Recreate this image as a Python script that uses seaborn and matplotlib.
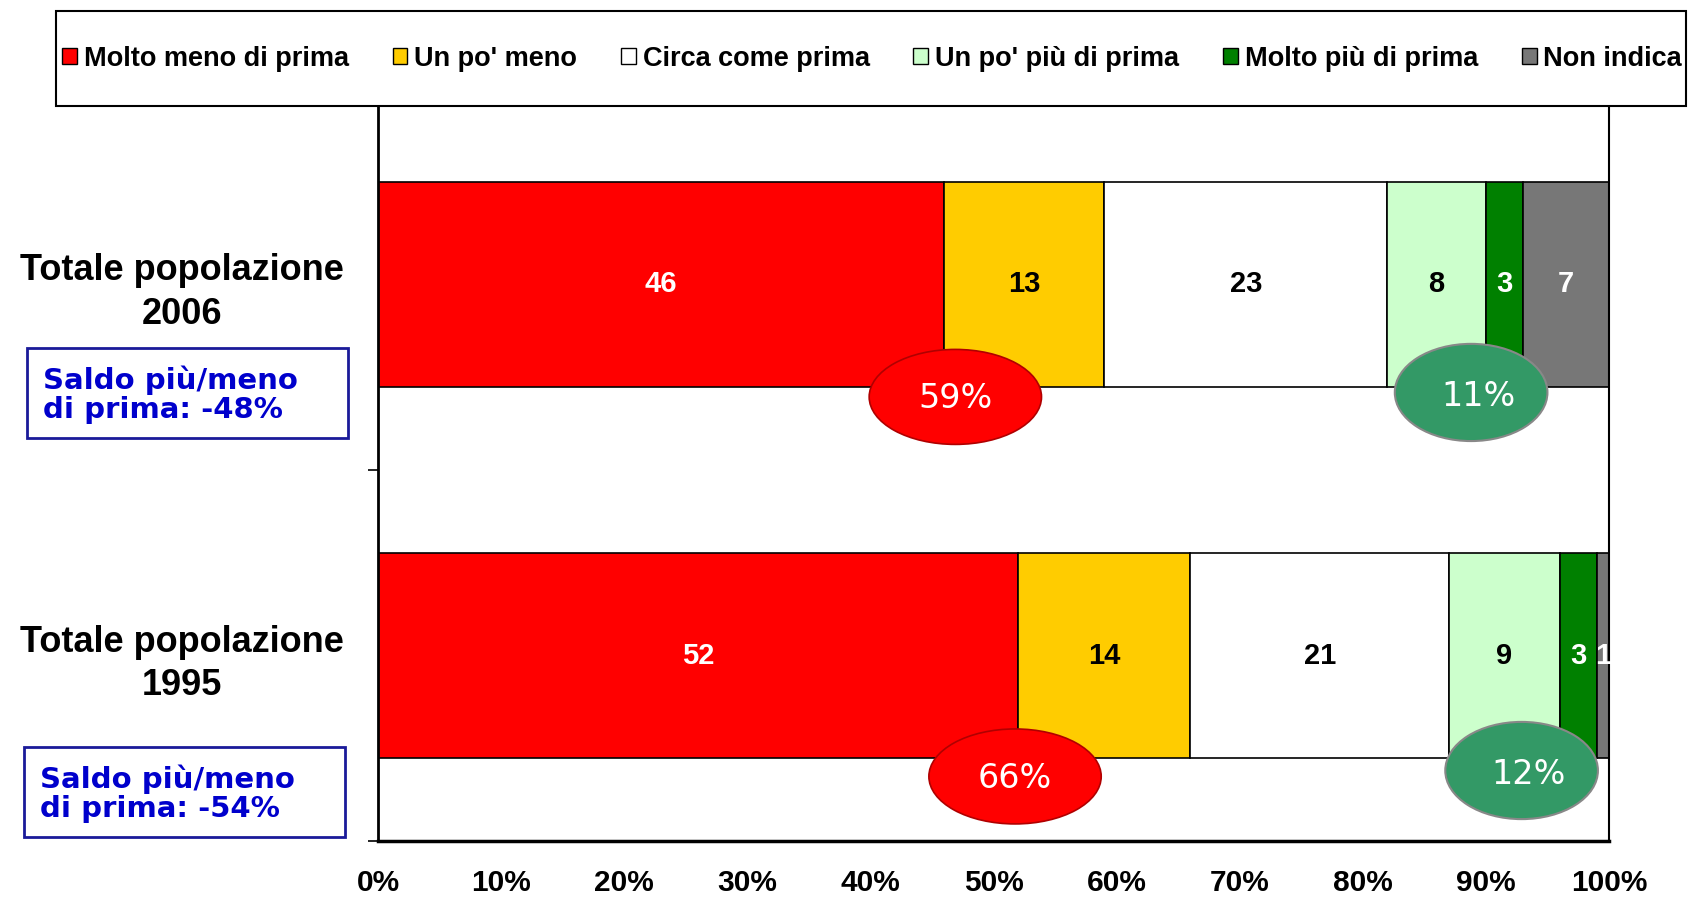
import numpy as np
import pandas as pd
import seaborn as sns
import matplotlib.pyplot as plt
from matplotlib.patches import Ellipse, Rectangle, Patch
from matplotlib.transforms import blended_transform_factory

# data
row_labels = ['Totale popolazione\n2006', 'Totale popolazione\n1995']
series = ['Molto meno di prima', "Un po' meno", 'Circa come prima',
          "Un po' più di prima", 'Molto più di prima', 'Non indica']
molto_meno = [46, 52]
po_meno = [13, 14]
come_prima = [23, 21]
po_piu = [8, 9]
molto_piu = [3, 3]
non_indica = [7, 1]
xticks = [0, 10, 20, 30, 40, 50, 60, 70, 80, 90, 100]

colors = ['#FF0000', '#FFCC00', '#FFFFFF', '#CCFFCC', '#008000', '#777777']
text_colors = ['white', 'black', 'black', 'black', 'white', 'white']

values = [molto_meno, po_meno, come_prima, po_piu, molto_piu, non_indica]

# layout tweaks for the callouts (per row)
red_dx, red_dy = [0.9, -0.25], [0.303, 0.326]
grn_dx, grn_dy = [6.8, 5.9], [0.291, 0.31]
saldo_y = [0.293, 0.3675]
saldo_x = [27, 24]

sns.set_style('white')
plt.rcParams['font.family'] = ['Liberation Sans', 'DejaVu Sans']
for k in ['text.color', 'axes.labelcolor', 'xtick.color', 'ytick.color']:
    plt.rcParams[k] = 'black'

W, H = 1693, 902
fig = plt.figure(figsize=(W / 100, H / 100), dpi=100)
ax = fig.add_axes([378 / W, 1 - 841 / H, (1609 - 378) / W, (841 - 99) / H])

# stacked bars
lefts = np.zeros(len(row_labels))
for vals, col in zip(values, colors):
    sns.barplot(x=vals, y=row_labels, left=list(lefts), color=col, saturation=1,
                edgecolor='black', linewidth=1.2, width=0.555, orient='h',
                errorbar=None, ax=ax)
    lefts = lefts + np.array(vals)

# value labels
starts = np.zeros(len(row_labels))
for vals, tc in zip(values, text_colors):
    for i, v in enumerate(vals):
        ax.text(starts[i] + v / 2, i, str(v), ha='center', va='center',
                color=tc, fontsize=21, fontweight='bold')
    starts = starts + np.array(vals)

# ellipses with the totals
for i in range(len(row_labels)):
    meno = molto_meno[i] + po_meno[i]
    piu = po_piu[i] + molto_piu[i]
    cx_r = molto_meno[i] + red_dx[i]
    cy_r = i + red_dy[i]
    ax.add_patch(Ellipse((cx_r, cy_r), 14, 0.256, fc='#FF0000', ec='#B00000', lw=1.2, zorder=5))
    ax.text(cx_r, cy_r + 0.005, f'{meno}%', ha='center', va='center', color='white',
            fontsize=24, family='DejaVu Sans', zorder=6)
    start_g = molto_meno[i] + po_meno[i] + come_prima[i]
    cx_g = start_g + grn_dx[i]
    cy_g = i + grn_dy[i]
    ax.add_patch(Ellipse((cx_g, cy_g), 12.4, 0.262, fc='#339966', ec='#888888', lw=1.5, zorder=5))
    ax.text(cx_g + 0.6, cy_g + 0.01, f'{piu}%', ha='center', va='center', color='white',
            fontsize=24, family='DejaVu Sans', zorder=6)

# saldo boxes
tr = blended_transform_factory(fig.transFigure, ax.transData)
for i in range(len(row_labels)):
    meno = molto_meno[i] + po_meno[i]
    piu = po_piu[i] + molto_piu[i]
    x0 = saldo_x[i] / W
    yc = i + saldo_y[i]
    ax.add_patch(Rectangle((x0, yc - 0.121), 321 / W, 0.242, transform=tr,
                           fc='white', ec='#1a1a99', lw=2, clip_on=False))
    ax.text(x0 + 16 / W, yc + 0.004, f'Saldo più/meno\ndi prima: {piu - meno}%',
            transform=tr, ha='left', va='center', color='#0000CC', fontsize=21,
            fontweight='bold', family='DejaVu Sans', linespacing=1.05, clip_on=False)

# axes styling
ax.set_xlim(0, 100)
ax.set_ylim(1.5, -0.5)
ax.set_xlabel('')
ax.set_ylabel('')
ax.set_xticks(xticks, labels=[f'{t}%' for t in xticks])
for lab in ax.get_xticklabels():
    lab.set_fontweight('bold')
    lab.set_fontsize(21.5)
ax.tick_params(axis='x', length=8, width=1.2, direction='out', pad=12, color='black')

ax.set_yticks([0, 1], labels=row_labels)
for lab in ax.get_yticklabels():
    lab.set_ha('center')
    lab.set_multialignment('center')
    lab.set_fontsize(26)
    lab.set_fontweight('bold')
    lab.set_linespacing(1.3)
ax.tick_params(axis='y', which='major', length=0, pad=141)
ax.set_yticks([-0.5, 0.5, 1.5], minor=True)
ax.tick_params(axis='y', which='minor', length=7, width=1.2, direction='out', left=True, color='black')

ax.spines['top'].set_visible(False)
ax.spines['left'].set_linewidth(2)
ax.spines['bottom'].set_linewidth(2.5)
ax.spines['right'].set_linewidth(1.5)
for s in ax.spines.values():
    s.set_color('black')

# legend box + legend
fig.patches.append(Rectangle((56 / W, 1 - 106 / H), 1630 / W, 95 / H, transform=fig.transFigure,
                             fc='white', ec='black', lw=1.5, zorder=10))
handles = [Patch(facecolor=c, edgecolor='black', lw=1) for c in colors]
leg = fig.legend(handles, series, loc='center', ncol=6, mode='expand',
                 bbox_to_anchor=(62 / W, 1 - 106 / H, 1620 / W, 95 / H),
                 frameon=False, handlelength=0.55, handleheight=0.55, handletextpad=0.25,
                 columnspacing=0.3, borderaxespad=0, borderpad=0,
                 prop={'weight': 'bold', 'size': 19.5})
leg.set_zorder(11)

fig.savefig('out.png', dpi=100)
